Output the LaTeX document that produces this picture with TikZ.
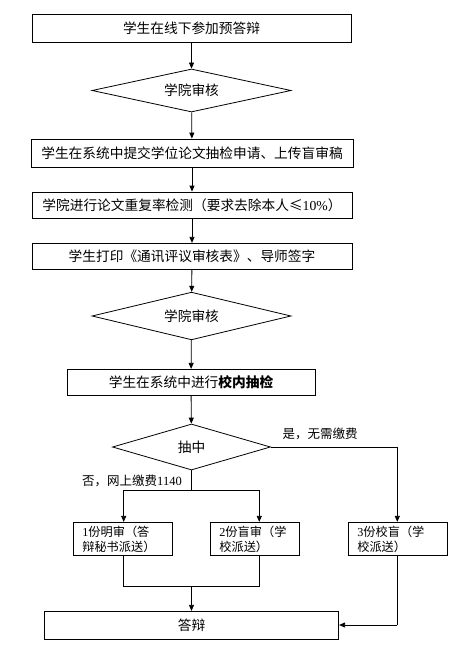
\documentclass[tikz,border=0pt]{standalone}
\usepackage{fontspec}
\setmainfont{Liberation Serif}
\newfontfamily\cjk{Noto Sans CJK SC}
\usetikzlibrary{shapes.geometric,arrows.meta}
\begin{document}
\begin{tikzpicture}[x=1pt,y=-1pt,
  every node/.style={font=\cjk\fontsize{13.7}{15}\selectfont},
  box/.style={draw=black,line width=0.8pt,rectangle,inner sep=0pt},
  dia/.style={draw=black,line width=0.8pt,diamond,inner sep=0pt},
  small/.style={draw=black,line width=0.8pt,rectangle,inner xsep=9pt,inner ysep=0pt,
     align=left,font=\cjk\fontsize{12.2}{15}\selectfont},
  lbl/.style={font=\cjk\fontsize{12.5}{14}\selectfont,inner sep=0pt},
  arr/.style={line width=0.8pt,-{Triangle[length=6pt,width=5pt]}},
  ln/.style={line width=0.8pt}]
\useasboundingbox (0,0) rectangle (469,650);
\node[box,minimum width=319,minimum height=28] (b1) at (191.5,28) {学生在线下参加预答辩};
\node[dia,minimum width=199,minimum height=43,aspect=4.6] (d1) at (191.5,90.5) {学院审核};
\node[box,minimum width=322,minimum height=28] (b2) at (192,153) {学生在系统中提交学位论文抽检申请、上传盲审稿};
\node[box,minimum width=320,minimum height=26] (b3) at (192,205) {学院进行论文重复率检测（要求去除本人≤{\rmfamily 10\%}）};
\node[box,minimum width=320,minimum height=26] (b4) at (192,256.3) {学生打印《通讯评议审核表》、导师签字};
\node[dia,minimum width=199,minimum height=47.7,aspect=4.2] (d2) at (191.5,316) {学院审核};
\node[box,minimum width=248,minimum height=26] (b5) at (191,382.3) {学生在系统中进行{\bfseries 校内抽检}};
\node[dia,minimum width=158,minimum height=46,aspect=3.4] (d3) at (191.5,447) {抽中};
\node[small,text width=81,minimum height=33.4] (bA) at (122.8,539) {{\rmfamily 1}份明审（答\\辩秘书派送）};
\node[small,text width=70.7,minimum height=33.4] (bB) at (254.7,539) {{\rmfamily 2}份盲审（学\\校派送）};
\node[small,text width=81,minimum height=33.4] (bC) at (397.8,539) {{\rmfamily 3}份校盲（学\\校派送）};
\node[box,minimum width=294.4,minimum height=28] (bF) at (191.5,625.3) {答辩};
\node[lbl] (ly) at (320,434) {是，无需缴费};
\node[lbl] (ln) at (132,481) {否，网上缴费{\rmfamily 1140}};
\draw[arr] (b1) -- (d1);
\draw[arr] (d1) -- (b2);
\draw[arr] (b2) -- (b3);
\draw[arr] (b3) -- (b4);
\draw[arr] (b4) -- (d2);
\draw[arr] (d2) -- (b5);
\draw[arr] (b5) -- (d3);
\coordinate (cR) at (397.3,447);
\draw[ln] (d3.east) -- (cR);
\draw[arr] (cR) -- (cR |- bC.north);
\coordinate (j1) at (191.5,490.3);
\coordinate (jA) at (123.7,490.3);
\coordinate (jB) at (259.3,490.3);
\draw[ln] (d3.south) -- (j1);
\draw[ln] (jA) -- (jB);
\draw[arr] (jA) -- (jA |- bA.north);
\draw[arr] (jB) -- (jB |- bB.north);
\coordinate (kA) at (123.7,586.7);
\coordinate (kB) at (259.3,586.7);
\coordinate (k1) at (191.5,586.7);
\draw[ln] (kA |- bA.south) -- (kA) -- (kB) -- (kB |- bB.south);
\draw[arr] (k1) -- (bF.north);
\coordinate (kC) at (397.3,625);
\draw[ln] (kC |- bC.south) -- (kC);
\draw[arr] (kC) -- (bF.east |- kC);
\end{tikzpicture}
\end{document}
